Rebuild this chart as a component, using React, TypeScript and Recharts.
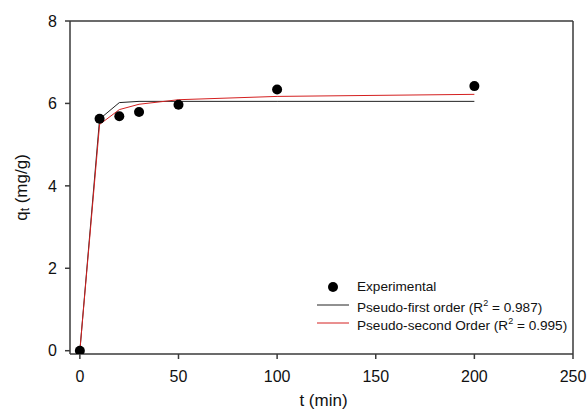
import { ComposedChart, Line, XAxis, YAxis, ReferenceLine, Label } from 'recharts';

const times = [0, 10, 20, 30, 50, 100, 200];
const experimental = [0, 5.63, 5.69, 5.79, 5.97, 6.34, 6.42];
const pseudoFirst = [0, 5.62, 6.02, 6.05, 6.05, 6.05, 6.05];
const pseudoSecond = [0, 5.49, 5.85, 5.98, 6.09, 6.17, 6.22];

const xTicks = [0, 50, 100, 150, 200, 250];
const yTicks = [0, 2, 4, 6, 8];

const data = times.map((t, i) => ({
  t,
  exp: experimental[i],
  pfo: pseudoFirst[i],
  pso: pseudoSecond[i],
}));

const font = '"Liberation Sans", Arial, sans-serif';
const axisColor = '#3a3a3a';

function YTitle(props: any) {
  const vb = props.viewBox || { x: 0, y: 21, width: 70, height: 333 };
  const cx = 21;
  const cy = vb.y + vb.height / 2;
  return (
    <text
      x={cx}
      y={cy}
      transform={`rotate(-90, ${cx}, ${cy})`}
      textAnchor="middle"
      dominantBaseline="central"
      fontSize={17}
      fontFamily={font}
      fill="#111"
    >
      q<tspan fontSize={12} dy={4}>t</tspan>
      <tspan dy={-4}> (mg/g)</tspan>
    </text>
  );
}

function XTitle(props: any) {
  const vb = props.viewBox || { x: 70, y: 354, width: 503, height: 63 };
  return (
    <text
      x={vb.x + vb.width / 2 + 2}
      y={406}
      textAnchor="middle"
      fontSize={17}
      fontFamily={font}
      fill="#111"
    >
      t (min)
    </text>
  );
}

function ChartLegend() {
  const row = { display: 'flex', alignItems: 'center', height: 18 } as const;
  const swatch = { width: 36, display: 'flex', justifyContent: 'center', marginRight: 6 } as const;
  const sup = { fontSize: 9, verticalAlign: 6 } as const;
  return (
    <div
      style={{
        position: 'absolute',
        left: 315,
        top: 278,
        fontFamily: font,
        fontSize: 13.6,
        color: '#111',
        lineHeight: '18px',
      }}
    >
      <div style={row}>
        <div style={swatch}>
          <svg width={12} height={12}>
            <circle cx={6} cy={6} r={5} fill="#000" />
          </svg>
        </div>
        <span>Experimental</span>
      </div>
      <div style={row}>
        <div style={swatch}>
          <svg width={32} height={4}>
            <line x1={0} y1={2} x2={32} y2={2} stroke="#222" strokeWidth={1} />
          </svg>
        </div>
        <span>
          Pseudo-first order (R<sup style={sup}>2</sup> = 0.987)
        </span>
      </div>
      <div style={row}>
        <div style={swatch}>
          <svg width={32} height={4}>
            <line x1={0} y1={2} x2={32} y2={2} stroke="#d42020" strokeWidth={1} />
          </svg>
        </div>
        <span>
          Pseudo-second Order (R<sup style={sup}>2</sup> = 0.995)
        </span>
      </div>
    </div>
  );
}

export default function App() {
  return (
    <div style={{ position: 'absolute', left: 0, top: 0, width: 587, height: 417, background: '#fff' }}>
      <ComposedChart
        width={587}
        height={417}
        data={data}
        margin={{ top: 21, right: 14, bottom: 0, left: 0 }}
      >
        <XAxis
          dataKey="t"
          type="number"
          domain={[-5, 250]}
          ticks={xTicks}
          allowDataOverflow
          height={63}
          stroke={axisColor}
          strokeWidth={1.5}
          tickSize={5}
          tickMargin={12}
          tick={{ fontSize: 16, fontFamily: font, fill: '#111' }}
        >
          <Label content={XTitle} />
        </XAxis>
        <YAxis
          type="number"
          domain={[-0.08, 8]}
          ticks={yTicks}
          allowDataOverflow
          width={70}
          stroke={axisColor}
          strokeWidth={1.5}
          tickSize={5}
          tickMargin={8}
          tick={{ fontSize: 16, fontFamily: font, fill: '#111' }}
        >
          <Label content={YTitle} />
        </YAxis>
        <ReferenceLine y={8} stroke={axisColor} strokeWidth={1.5} />
        <ReferenceLine x={250} stroke={axisColor} strokeWidth={1.5} />
        <Line
          dataKey="pfo"
          type="linear"
          stroke="#222"
          strokeWidth={1}
          dot={false}
          activeDot={false}
          isAnimationActive={false}
        />
        <Line
          dataKey="pso"
          type="linear"
          stroke="#d42020"
          strokeWidth={1}
          dot={false}
          activeDot={false}
          isAnimationActive={false}
        />
        <Line
          dataKey="exp"
          stroke="none"
          dot={{ r: 5, fill: '#000', stroke: '#000', strokeWidth: 0 }}
          activeDot={false}
          isAnimationActive={false}
        />
      </ComposedChart>
      <ChartLegend />
    </div>
  );
}
